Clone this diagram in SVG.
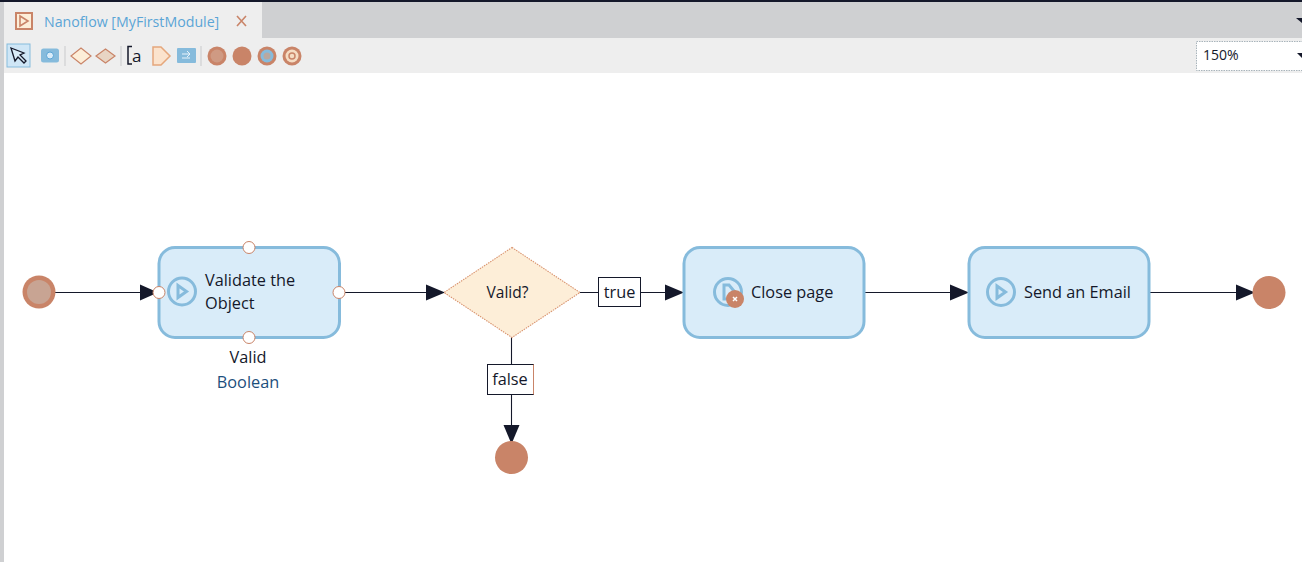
<svg xmlns="http://www.w3.org/2000/svg" width="1302" height="562" viewBox="0 0 1302 562">
<style>
text{font-family:"Open Sans","Noto Sans","Liberation Sans",sans-serif;fill:#14182a}
.t{font-size:16.3px}
.act{fill:#d9ecf9;stroke:#86bbdc;stroke-width:3}
.ic{fill:none;stroke:#86bbdc;stroke-width:3}
.ln{stroke:#14182a;stroke-width:1.1;fill:none}
.h{fill:#14182a}
.end{fill:#c98468}
.port{fill:#fff;stroke:#c98468;stroke-width:1}
.lab{fill:#fff;stroke:#14182a;stroke-width:1}
.o{fill:none;stroke:#c98468;stroke-width:1.6}
</style>
<rect width="1302" height="562" fill="#fff"/>
<g id="chrome">
<rect x="0" y="0" width="1302" height="38" fill="#cfd0d2"/>
<rect x="0" y="0" width="1302" height="2" fill="#14182a"/>
<rect x="4" y="2" width="258" height="36" fill="#eeeeee"/>
<rect x="0" y="38" width="1302" height="35" fill="#eeeeee"/>
<rect x="0" y="2" width="4" height="560" fill="#cfd0d2"/>
<rect x="16" y="13" width="16" height="16" fill="#fdeed8" stroke="#c98468" stroke-width="2"/>
<path d="M20 16l8 5-8 5z" class="o"/>
<text x="44" y="27" style="font-size:14.2px;fill:#5ba5d6">Nanoflow [MyFirstModule]</text>
<path d="M237 16l9 10M246 16l-9 10" stroke="#c98468" stroke-width="1.6"/>
<path d="M1296 18l6 5v-5z" fill="#14182a"/>
</g>
<g id="toolbar">
<rect x="7" y="44" width="23" height="23" fill="#cfe6f6" stroke="#86bbdc"/>
<path d="M11 48l4 13 3-4 6 6 2-2-6-6 4-2z" fill="#d9ecf9" stroke="#14182a" stroke-width="1.3"/>
<rect x="41" y="48.500" width="18" height="14" rx="2.500" fill="#86bbdc"/>
<circle cx="50" cy="55.500" r="3.500" fill="#d9ecf9" stroke="#5ba5d6"/>
<path d="M65 46v20M121 46v20M201 46v20" stroke="#c9cacc"/>
<path d="M71 56l10-8 10 8-10 8z" fill="#fdeed8" stroke="#c98468" stroke-width="1.200"/>
<path d="M96 56l9.500-7 9.500 7-9.500 7z" fill="#e8d5c4" stroke="#c98468" stroke-width="1.200"/>
<path d="M132 46.500h-4v17.500h4" fill="none" stroke="#14182a" stroke-width="1.500"/>
<text x="132" y="62" style="font-size:17px">a</text>
<path d="M153 47h8l9 9-9 9h-8z" fill="#fbe3cd" stroke="#e5a77c" stroke-width="1.500"/>
<rect x="177" y="48" width="19" height="15" rx="1" fill="#86bbdc"/>
<path d="M182 54h8M187 51l3 3-3 3M190 58h-8" stroke="#e8f3fb" fill="none"/>
<circle cx="217" cy="56" r="9.500" fill="#c98468"/>
<circle cx="217" cy="56" r="6.500" fill="#cf9a83"/>
<circle cx="242" cy="56" r="9.500" class="end"/>
<circle cx="267" cy="56" r="9.500" fill="#c98468"/>
<circle cx="267" cy="56" r="6.500" fill="#86bbdc"/>
<circle cx="267" cy="56" r="3.500" fill="#b9a8a0"/>
<circle cx="292" cy="56" r="9.500" fill="#c98468"/>
<circle cx="292" cy="56" r="6.500" fill="#f5dcc3"/>
<circle cx="292" cy="56" r="3" fill="none" stroke="#c98468" stroke-width="1.500"/>
<rect x="1196.500" y="41.500" width="106" height="29" fill="#fff" stroke="#a9b4bb" stroke-dasharray="1.500 1"/>
<text x="1203" y="60" style="font-size:14px">150%</text>
<path d="M1297 53l5 5v-5z" fill="#14182a"/>
</g>
<g id="connectors">
<path class="ln" d="M54 292.500H142"/>
<path class="h" d="M140 284.500l18 8-18 8z"/>
<path class="ln" d="M345 292.500H427"/>
<path class="h" d="M426 284.500l19 8-19 8z"/>
<path class="ln" d="M580 292.500H666"/>
<path class="h" d="M665 284.500l19 8-19 8z"/>
<path class="ln" d="M864 292.500H952"/>
<path class="h" d="M950 284.500l19 8-19 8z"/>
<path class="ln" d="M1149 292.500H1238"/>
<path class="h" d="M1236 284.500l19 8-19 8z"/>
<path class="ln" d="M511.500 337V426"/>
<path class="h" d="M503.500 425h16l-8 19z"/>
</g>
<g id="start">
<circle cx="39" cy="292" r="16.500" fill="#c98468"/>
<circle cx="39" cy="292" r="12" fill="#c8a493"/>
</g>
<g id="validate">
<rect class="act" x="159" y="247.500" width="180.500" height="90" rx="16"/>
<circle class="ic" cx="182" cy="291.500" r="13.500"/>
<path class="ic" d="M178 285.500l8.500 6-8.500 6z"/>
<text class="t" x="205" y="286">Validate the</text>
<text class="t" x="205" y="309">Object</text>
<circle class="port" cx="249" cy="247.500" r="6"/>
<circle class="port" cx="159" cy="292.500" r="6"/>
<circle class="port" cx="339" cy="292.500" r="6"/>
<circle class="port" cx="249" cy="337.500" r="6"/>
<text class="t" x="248" y="363" text-anchor="middle">Valid</text>
<text class="t" x="248" y="388" text-anchor="middle" style="fill:#1d4f7c">Boolean</text>
</g>
<g id="decision">
<path d="M512 247.500l68 45-68 45-68-45z" fill="#fdeed8" stroke="#d9946f" stroke-width="1.100" stroke-dasharray="1.500 1"/>
<text x="507.500" y="298" text-anchor="middle" style="font-size:15.500px">Valid?</text>
</g>
<g id="label-true">
<rect class="lab" x="598.500" y="277.500" width="42" height="29"/>
<text class="t" x="619.500" y="298" text-anchor="middle">true</text>
</g>
<g id="label-false">
<rect class="lab" x="487.500" y="364.500" width="46" height="30"/>
<path d="M533.500 364.500v30" stroke="#c98468"/>
<text class="t" x="510" y="385" text-anchor="middle">false</text>
</g>
<g id="end-false"><circle class="end" cx="511.500" cy="457.500" r="16.500"/></g>
<g id="close-page">
<rect class="act" x="684" y="247.500" width="180" height="90" rx="16"/>
<circle class="ic" cx="728" cy="292" r="13.500"/>
<path class="ic" d="M724 285h5l5 6v8h-10z"/>
<circle cx="735" cy="299" r="9" class="end"/>
<path d="M733 297l4 4M737 297l-4 4" stroke="#fff" stroke-width="1.500"/>
<text class="t" x="751" y="298">Close page</text>
</g>
<g id="send-email">
<rect class="act" x="969" y="247.500" width="180" height="90" rx="16"/>
<circle class="ic" cx="1001" cy="292" r="13.500"/>
<path class="ic" d="M997 286l8.500 6-8.500 6z"/>
<text class="t" x="1024" y="298">Send an Email</text>
</g>
<g id="end-main"><circle class="end" cx="1269" cy="292.500" r="16.500"/></g>
</svg>
